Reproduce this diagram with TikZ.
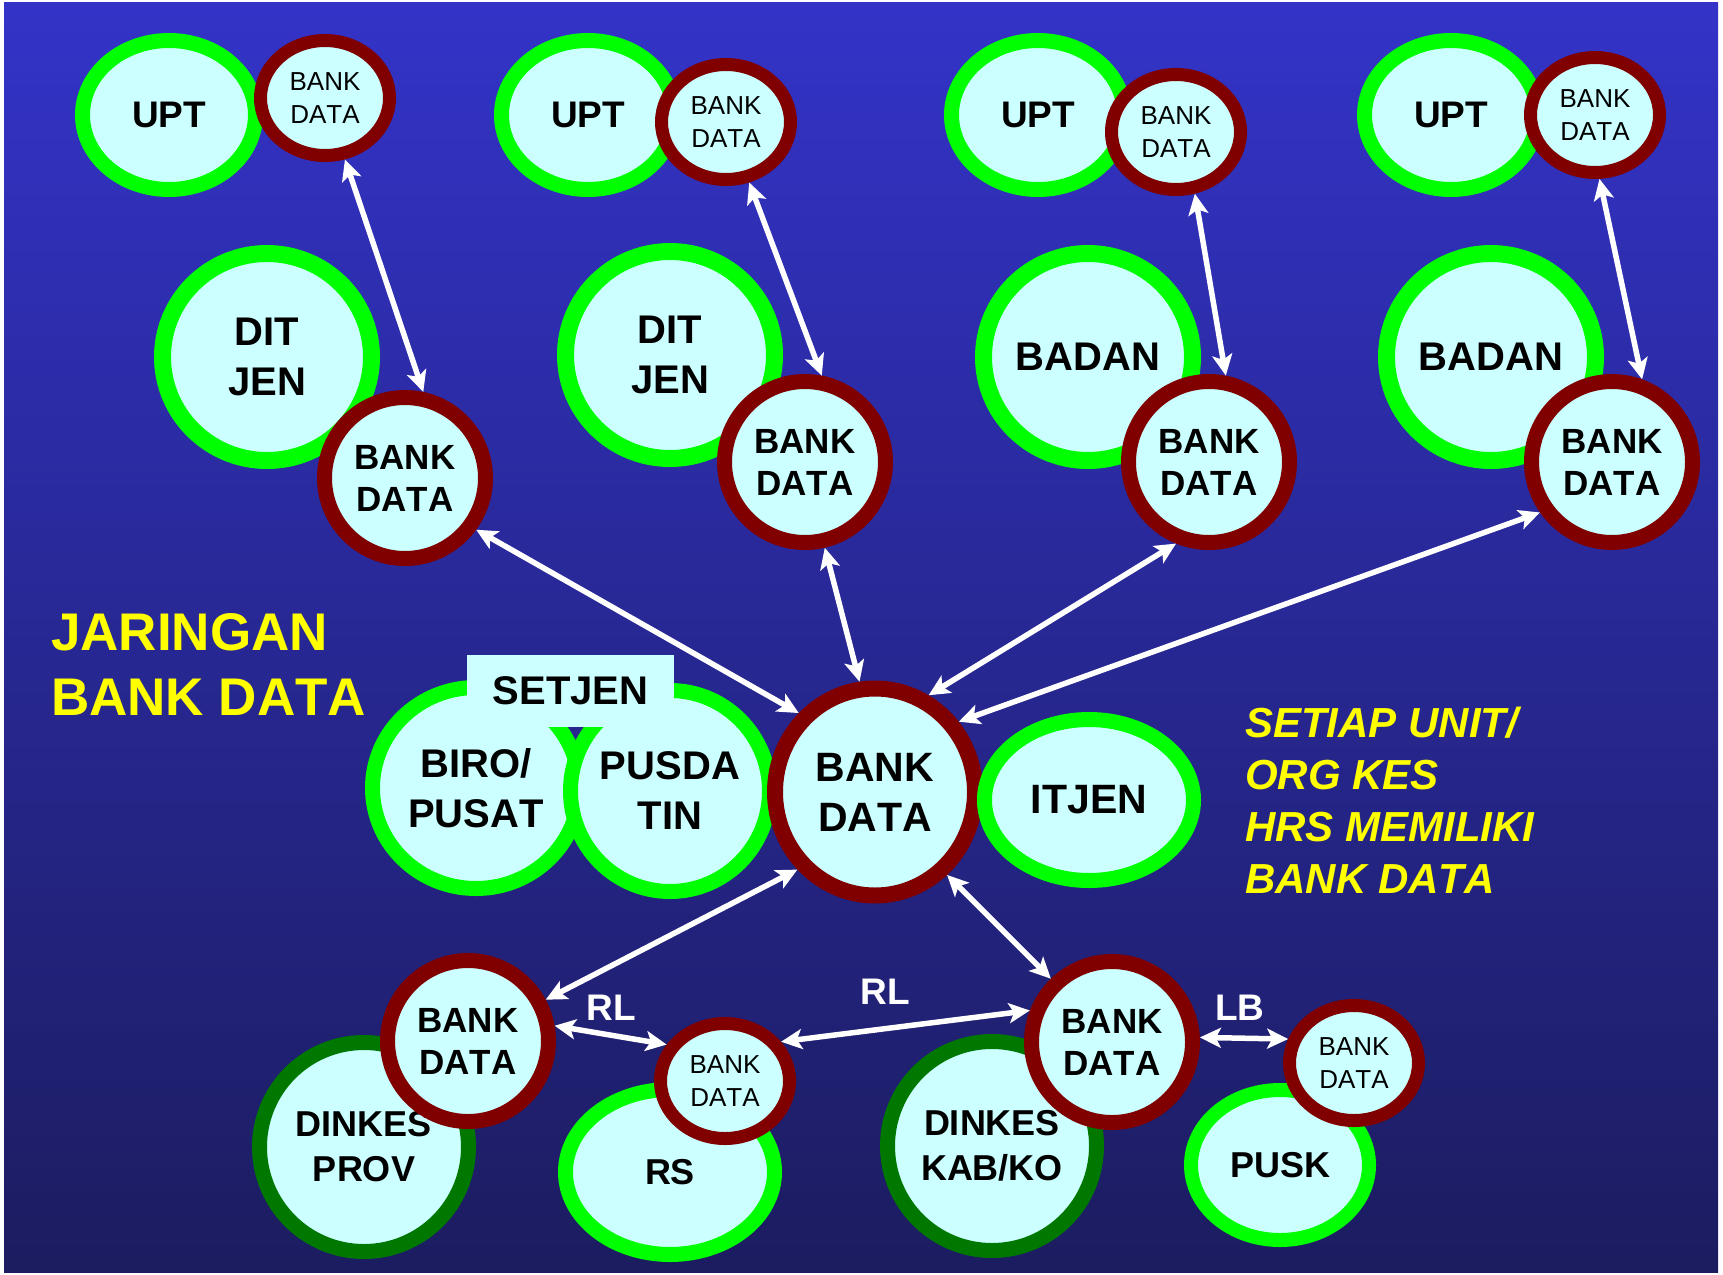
\documentclass[tikz,border=0pt]{standalone}
\usepackage{fontspec}
\setmainfont{Liberation Sans}[Kerning=Off]
\usetikzlibrary{shapes.geometric,arrows.meta}
\definecolor{bgtop}{RGB}{51,51,200}
\definecolor{bgbot}{RGB}{28,28,96}
\definecolor{cyanfill}{RGB}{204,255,255}
\definecolor{lgreen}{RGB}{0,255,0}
\definecolor{dgreen}{RGB}{0,120,0}
\definecolor{maroon}{RGB}{128,0,0}
\definecolor{yel}{RGB}{255,255,0}
\newcommand{\fs}[2]{\fontsize{#1}{#2}\selectfont}
\tikzset{
  bub/.style={ellipse, fill=cyanfill, inner sep=0pt, align=center, text=black},
  upt/.style={bub, draw=lgreen, line width=15pt, outer sep=7.5pt, minimum width=173pt, minimum height=149pt, font=\bfseries\fs{37}{44}},
  sbank/.style={bub, draw=maroon, line width=13pt, outer sep=6.5pt, minimum width=129pt, minimum height=115pt, font=\fs{26}{33}},
  bigc/.style={bub, draw=lgreen, line width=17pt, outer sep=8.5pt, minimum width=209pt, minimum height=207pt, font=\bfseries\fs{40}{50}},
  mbank/.style={bub, draw=maroon, line width=15pt, outer sep=7.5pt, minimum width=161pt, minimum height=161pt, font=\bfseries\fs{35}{42}},
  midc/.style={bub, draw=lgreen, line width=15pt, outer sep=7.5pt, minimum height=201pt, font=\bfseries\fs{40}{50}},
  cbank/.style={bub, draw=maroon, line width=16pt, outer sep=8pt, minimum width=200pt, minimum height=207pt, font=\bfseries\fs{41}{50}},
  dink/.style={bub, draw=dgreen, line width=15pt, outer sep=7.5pt, minimum width=209pt, minimum height=209pt, font=\bfseries\fs{36}{45}},
  lowc/.style={bub, draw=lgreen, line width=15pt, outer sep=7.5pt, font=\bfseries\fs{36}{45}},
  arr/.style={draw=white, line width=5.5pt, {Stealth[length=21pt,width=20pt,inset=5pt]}-{Stealth[length=21pt,width=20pt,inset=5pt]}},
  lbl/.style={text=white, inner sep=0pt, font=\bfseries\fs{37}{44}},
  ytext/.style={text=yel, inner sep=0pt, anchor=west, align=left}
}
\begin{document}
\begin{tikzpicture}[x=1pt,y=-1pt]
\fill[white] (0,0) rectangle (1723,1274);
\shade[top color=bgtop, bottom color=bgbot] (4,2) rectangle (1718,1272);
\useasboundingbox (0,0) rectangle (1723,1274);

% top row
\node[upt] (upt1) at (169,115) {UPT};
\node[sbank] (bt1) at (325,98) {BANK\\DATA};
\node[upt] (upt2) at (588,115) {UPT};
\node[sbank] (bt2) at (726,122) {BANK\\DATA};
\node[upt] (upt3) at (1038,115) {UPT};
\node[sbank] (bt3) at (1176,132) {BANK\\DATA};
\node[upt] (upt4) at (1451,115) {UPT};
\node[sbank] (bt4) at (1595,115) {BANK\\DATA};

% second row
\node[bigc] (dj1) at (267,357) {DIT\\JEN};
\node[mbank] (b1) at (405,478) {BANK\\DATA};
\node[bigc] (dj2) at (670,355) {DIT\\JEN};
\node[mbank] (b2) at (805,462) {BANK\\DATA};
\node[bigc] (bd1) at (1088,357) {BADAN};
\node[mbank] (b3) at (1209,462) {BANK\\DATA};
\node[bigc] (bd2) at (1491,357) {BADAN};
\node[mbank] (b4) at (1612,462) {BANK\\DATA};

% middle row
\node[midc, minimum width=207pt] (biro) at (476,788) {BIRO/\\PUSAT};
\node[midc, minimum width=199pt] (pusda) at (670,791) {PUSDA\\TIN};
\node[fill=cyanfill, inner sep=0pt, minimum width=207pt, minimum height=72pt, font=\bfseries\fs{40}{48}] (setjen) at (570.5,691) {SETJEN};
\node[cbank] (cb) at (875,792) {BANK\\DATA};
\node[bub, draw=lgreen, line width=15pt, outer sep=7.5pt, minimum width=209pt, minimum height=161pt, font=\bfseries\fs{41}{50}] (itjen) at (1089,800) {ITJEN};

% bottom row
\node[dink] (dprov) at (364,1147) {DINKES\\PROV};
\node[mbank] (pb) at (468,1041) {BANK\\DATA};
\node[lowc, minimum width=209pt, minimum height=165pt] (rs) at (670,1172) {RS};
\node[sbank] (rsb) at (725,1081) {BANK\\DATA};
\node[dink] (dkab) at (992,1146) {DINKES\\KAB/KO};
\node[mbank] (kb) at (1112,1042) {BANK\\DATA};
\node[lowc, line width=14pt, outer sep=7pt, minimum width=178pt, minimum height=150pt] (pusk) at (1280,1165) {PUSK};
\node[sbank] (pkb) at (1354,1063) {BANK\\DATA};

% arrows
\draw[arr] (bt1.-72) -- (b1.78);
\draw[arr] (bt2.-69) -- (b2.79);
\draw[arr] (bt3.-73) -- (b3.79);
\draw[arr] (bt4.-86) -- (b4.70);
\draw[arr] (b1.-36) -- (cb.134);
\draw[arr] (b2.-77) -- (cb.98);
\draw[arr] (b3.-112) -- (cb.61);
\draw[arr] (b4.-145) -- (cb.40);
\draw[arr] (cb.-135) -- (pb.28);
\draw[arr] (cb.-49) -- (kb.134);
\draw[arr] (pb.10) -- (rsb.148);
\draw[arr] (rsb.35) -- (kb.159);
\draw[arr] (kb.3) -- (pkb.160);

% labels
\node[lbl] (rl1) at (611,1008) {RL};
\node[lbl] (rl2) at (885,992) {RL};
\node[lbl] (lb) at (1240,1008) {LB};

% yellow texts
\node[ytext, font=\bfseries\fs{53}{65}] (title) at (51,664) {JARINGAN\\BANK DATA};
\node[ytext, font=\bfseries\itshape\fs{42}{52}] (note) at (1245,800) {SETIAP UNIT/\\ORG KES\\HRS MEMILIKI\\BANK DATA};
\end{tikzpicture}
\end{document}
